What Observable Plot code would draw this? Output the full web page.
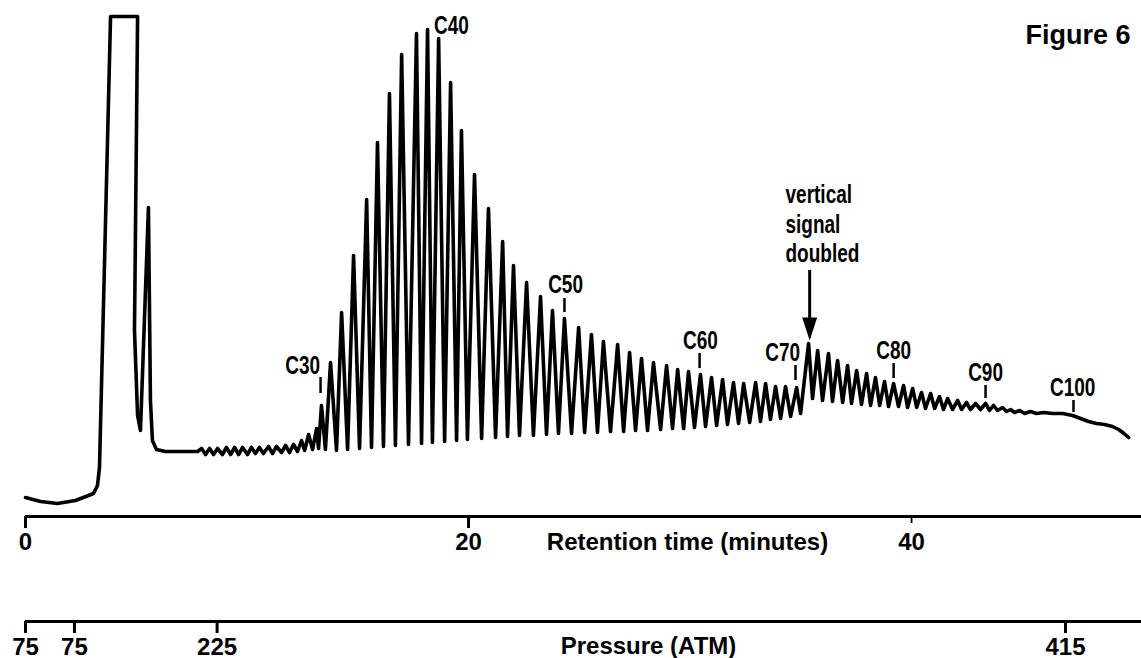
<!DOCTYPE html>
<html>
<head>
<meta charset="utf-8">
<script src="https://cdn.jsdelivr.net/npm/d3@7"></script>
<script src="https://cdn.jsdelivr.net/npm/@observablehq/plot@0.6"></script>
<style>
  html, body { margin: 0; padding: 0; background: #fff; }
  #chart svg { display: block; }
</style>
</head>
<body>
<div id="chart"></div>
<script>
// ---- Chromatogram trace: retention time (min) and detector signal (% of full scale) ----
// solvent peak and early baseline
const solventTime   = [0, 0.68, 1.44, 2.26, 3.07, 3.25, 3.34, 3.84, 5.06, 4.92, 5.06, 5.19, 5.55, 5.64, 5.73, 5.91, 6.32, 7.77];
const solventSignal = [3.8, 3.0, 2.6, 3.2, 4.6, 6.2, 9.8, 100, 100, 37.2, 20.2, 17.2, 61.8, 23.2, 15.2, 13.4, 13.0, 13.0];

// small oligomer ripples up to C30
const earlyTime   = [7.95, 8.13, 8.31, 8.49, 8.67, 8.89, 9.07, 9.26, 9.44, 9.62, 9.80, 10.02, 10.20, 10.38, 10.56, 10.74, 10.97, 11.15, 11.33, 11.56, 11.74, 11.92, 12.10, 12.28, 12.46, 12.60, 12.78, 12.96, 13.14, 13.23, 13.36, 13.54];
const earlySignal = [13.6, 12.4, 13.6, 12.4, 13.6, 12.4, 13.8, 12.4, 13.8, 12.4, 13.8, 12.4, 13.8, 12.6, 13.8, 12.6, 14.0, 12.6, 14.0, 12.8, 14.2, 12.8, 14.4, 13.0, 15.2, 13.2, 16.4, 13.4, 17.6, 13.6, 22.2, 13.4];

// C31 .. C70 (peak, valley, peak, valley ...)
const mainTime = [
  13.77, 14.04, 14.27, 14.54, 14.81, 15.08, 15.40, 15.62, 15.89, 16.16,
  16.43, 16.70, 16.98, 17.29, 17.65, 17.88, 18.15, 18.37, 18.65, 18.92,
  19.19, 19.46, 19.68, 19.95, 20.27, 20.59, 20.90, 21.22, 21.54, 21.76,
  22.03, 22.30, 22.62, 22.93, 23.25, 23.52, 23.79, 24.06, 24.33, 24.65,
  24.97, 25.24, 25.55, 25.82, 26.09, 26.41, 26.73, 27.00, 27.27, 27.54,
  27.81, 28.08, 28.35, 28.67, 28.94, 29.21, 29.44, 29.71, 29.93, 30.20,
  30.47, 30.70, 30.97, 31.20, 31.47, 31.69, 31.96, 32.19, 32.42, 32.69,
  32.96, 33.18, 33.41, 33.63, 33.86, 34.09, 34.31, 34.54, 34.81, 34.99];
const mainSignal = [
  30.8, 13.2, 40.8, 13.4, 52.2, 13.6, 63.4, 13.8, 74.8, 14.0,
  84.6, 14.2, 92.4, 14.4, 96.6, 14.6, 97.4, 14.8, 95.6, 15.0,
  86.8, 15.2, 77.2, 15.4, 68.4, 15.6, 61.6, 15.8, 55.0, 16.0,
  50.2, 16.2, 46.8, 16.2, 44.0, 16.4, 41.2, 16.6, 39.6, 16.6,
  37.8, 16.8, 36.4, 16.8, 35.0, 17.0, 34.4, 17.0, 32.8, 17.2,
  31.6, 17.2, 30.8, 17.4, 30.2, 17.6, 29.4, 17.6, 29.0, 17.8,
  28.4, 18.0, 27.8, 18.2, 27.4, 18.4, 26.8, 18.6, 26.6, 18.8,
  26.8, 19.0, 26.6, 19.4, 26.0, 19.6, 26.0, 20.0, 25.8, 20.6];

// after the vertical signal was doubled (C71 .. end)
const lateTime = [
  35.35, 35.53, 35.76, 35.98, 36.25, 36.43, 36.66, 36.89, 37.11, 37.29,
  37.52, 37.74, 37.97, 38.15, 38.37, 38.56, 38.78, 38.96, 39.19, 39.41,
  39.64, 39.82, 40.05, 40.23, 40.45, 40.63, 40.86, 41.04, 41.26, 41.44,
  41.63, 41.85, 42.08, 42.26, 42.48, 42.66, 42.89, 43.11, 43.34, 43.52,
  43.70, 43.88, 44.11, 44.29, 44.47, 44.65, 44.88, 45.10, 45.37, 45.64,
  45.96, 46.37, 46.82, 47.27, 47.63, 47.99, 48.35, 48.71, 49.07, 49.35,
  49.59, 49.80];
const lateSignal = [
  34.6, 23.6, 33.2, 23.2, 32.6, 23.0, 31.2, 22.8, 30.2, 22.6,
  29.2, 22.4, 28.6, 22.2, 27.8, 22.2, 27.0, 22.0, 26.6, 22.0,
  26.2, 21.8, 25.6, 21.8, 24.8, 21.6, 24.6, 21.6, 24.0, 21.4,
  23.6, 21.4, 23.2, 21.4, 22.8, 21.4, 22.6, 21.4, 22.6, 21.2,
  22.2, 21.2, 21.8, 21.0, 21.4, 20.8, 21.2, 20.6, 21.0, 20.6,
  20.8, 20.6, 20.6, 20.2, 19.6, 19.0, 18.6, 18.4, 18.0, 17.4,
  16.6, 15.8];

// ---- Carbon-number annotations ----
const carbonNames       = ["C30", "C40", "C50", "C60", "C70", "C80", "C90", "C100"];
const carbonLabelTime   = [12.51, 19.23, 24.38, 30.47, 34.18, 39.19, 43.34, 47.27];
const carbonLabelSignal = [28.6, 96.6, 44.8, 33.6, 31.2, 31.6, 27.2, 24.2];
const markerNames  = ["C30", "C50", "C60", "C70", "C80", "C90", "C100"];
const markerTime   = [13.32, 24.33, 30.43, 34.76, 39.19, 43.34, 47.31];
const markerTop    = [27.8, 43.6, 32.6, 30.2, 30.6, 26.2, 23.2];
const markerBottom = [24.6, 40.8, 29.6, 27.2, 27.6, 23.6, 20.8];

// "vertical signal doubled" note and arrow
const noteText   = "vertical\nsignal\ndoubled";
const noteTime   = 34.31;
const noteSignal = 66.8;
const arrowTime  = 35.40;
const arrowTail  = 49.2;
const arrowTip   = 35.2;

// ---- Axes ----
const timeTicks      = [0, 20];
const timeMinorTicks = [40];
const timeLabel  = "Retention time (minutes)";
const pressureTickTime  = [0, 2.21, 8.65, 46.95];
const pressureTickLabel = ["75", "75", "225", "415"];
const pressureLabel = "Pressure (ATM)";
const figureTitle = "Figure 6";

const timeDomain = [0, 50.38];

// ---- build ----
const trace = [
  ...solventTime.map((t, i) => ({t, s: solventSignal[i]})),
  ...earlyTime.map((t, i) => ({t, s: earlySignal[i]})),
  ...mainTime.map((t, i) => ({t, s: mainSignal[i]})),
  ...lateTime.map((t, i) => ({t, s: lateSignal[i]}))
];
const carbons = carbonNames.map((name, i) => ({name, t: carbonLabelTime[i], s: carbonLabelSignal[i]}));
const markers = markerNames.map((name, i) => ({name, t: markerTime[i], top: markerTop[i], bottom: markerBottom[i]}));

const sans = '"Liberation Sans", Arial, Helvetica, sans-serif';

// filled, elongated arrow head with its tip at the anchor point
const arrowHead = {
  draw(context, size) {
    const r = Math.sqrt(size / Math.PI);
    context.moveTo(-0.75 * r, -2.3 * r);
    context.lineTo(0.75 * r, -2.3 * r);
    context.lineTo(0, 0);
    context.closePath();
  }
};

const main = Plot.plot({
  width: 1141,
  height: 560,
  marginLeft: 25,
  marginRight: 0,
  marginTop: 16,
  marginBottom: 44,
  x: {domain: timeDomain},
  y: {domain: [0, 100], axis: null},
  style: {background: "#fff", color: "#000", fontFamily: sans, overflow: "visible"},
  marks: [
    Plot.line(trace, {x: "t", y: "s", stroke: "#000", strokeWidth: 3.6, strokeLinejoin: "round", strokeLinecap: "round"}),
    Plot.ruleY([0], {stroke: "#000", strokeWidth: 3}),
    Plot.axisX({ticks: timeTicks, tickSize: 12, tickPadding: 4, strokeWidth: 3, fontSize: 24, fontWeight: "bold", fontFamily: sans, label: null}),
    Plot.axisX({ticks: timeMinorTicks, tickSize: 7, tickPadding: 9, strokeWidth: 1.8, fontSize: 24, fontWeight: "bold", fontFamily: sans, label: null}),
    Plot.text([timeLabel], {frameAnchor: "bottom", dx: 104, dy: 26, lineAnchor: "middle", fontSize: 24, fontWeight: "bold", fontFamily: sans}),
    Plot.text(carbons, {x: "t", y: "s", text: "name", lineAnchor: "bottom", textAnchor: "middle", fontSize: 25, fontWeight: "bold", fontFamily: sans}),
    Plot.ruleX(markers, {x: "t", y1: "top", y2: "bottom", stroke: "#000", strokeWidth: 2.5}),
    Plot.text([noteText], {x: noteTime, y: noteSignal, textAnchor: "start", lineAnchor: "top", lineHeight: 1.17, fontSize: 25, fontWeight: "bold", fontFamily: sans}),
    Plot.ruleX([arrowTime], {y1: arrowTail, y2: arrowTip + 3, stroke: "#000", strokeWidth: 3}),
    Plot.dot([arrowTime], {x: d => d, y: arrowTip, symbol: arrowHead, r: 10, fill: "#000", stroke: null}),
    Plot.text([figureTitle], {frameAnchor: "top-right", dx: -11, dy: 19, lineAnchor: "middle", textAnchor: "end", fontSize: 27, fontWeight: "bold", fontFamily: sans})
  ]
});

// condensed lettering for the in-plot annotations (no condensed face is installed)
const condensedTexts = new Set([...carbonNames, noteText.replace(/\n/g, "")]);
main.querySelectorAll("text").forEach(el => {
  if (!condensedTexts.has(el.textContent)) return;
  const x = el.getAttribute("x"), y = el.getAttribute("y");
  let tr = el.getAttribute("transform") || "";
  if (x != null || y != null) {
    tr = `translate(${x || 0},${y || 0}) ` + tr;
    el.removeAttribute("x");
    el.removeAttribute("y");
  }
  el.setAttribute("transform", tr + " scale(0.76,1)");
});

const pressureByTime = new Map(pressureTickTime.map((t, i) => [t, pressureTickLabel[i]]));
const pressure = Plot.plot({
  width: 1141,
  height: 98,
  marginLeft: 25,
  marginRight: 0,
  marginTop: 0,
  marginBottom: 37,
  x: {domain: timeDomain},
  y: {domain: [0, 1], axis: null},
  style: {background: "#fff", color: "#000", fontFamily: sans, overflow: "visible"},
  marks: [
    Plot.ruleY([0], {stroke: "#000", strokeWidth: 3}),
    Plot.axisX({ticks: pressureTickTime, tickFormat: d => pressureByTime.get(d), tickSize: 12, tickPadding: 4, strokeWidth: 3, fontSize: 24, fontWeight: "bold", fontFamily: sans, label: null}),
    Plot.text([pressureLabel], {frameAnchor: "bottom", dx: 65, dy: 25, lineAnchor: "middle", fontSize: 24, fontWeight: "bold", fontFamily: sans})
  ]
});

const chart = document.getElementById("chart");
chart.appendChild(main);
chart.appendChild(pressure);
</script>
</body>
</html>
